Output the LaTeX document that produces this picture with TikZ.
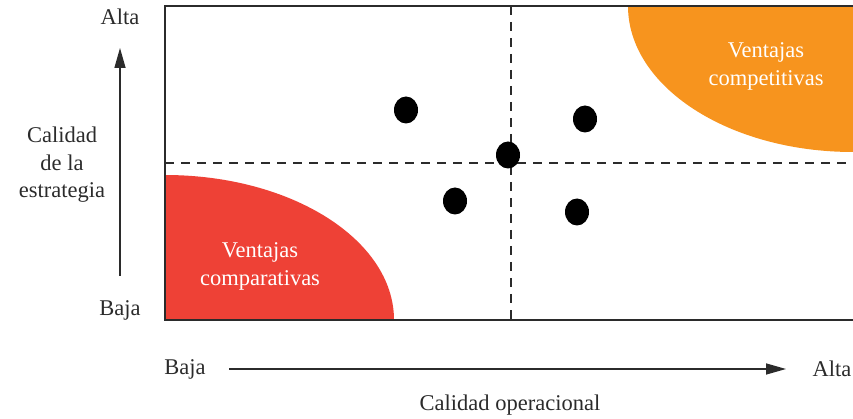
\documentclass[tikz,border=0pt]{standalone}
\usepackage{fontspec}
\setmainfont{Liberation Serif}
\usetikzlibrary{arrows.meta,shapes.geometric}
\definecolor{redc}{HTML}{EE4136}
\definecolor{orangec}{HTML}{F7941E}
\definecolor{linec}{HTML}{2B2B2B}
\tikzset{
  lbl/.style={font=\fontsize{22.5}{26}\selectfont, text=linec, inner sep=0pt},
  wlbl/.style={font=\fontsize{22.5}{28}\selectfont, text=white, align=center, inner sep=0pt},
  frameline/.style={draw=linec, line width=2pt},
  dashline/.style={draw=linec, line width=1.6pt, dash pattern=on 9pt off 7pt},
  axisarrow/.style={draw=linec, line width=1.5pt, -{Triangle[length=20pt,width=11pt]}},
  dot/.style={ellipse, fill=black, minimum width=24pt, minimum height=27pt, inner sep=0pt},
}
\begin{document}
\begin{tikzpicture}[x=1pt,y=-1pt]
\useasboundingbox (0,0) rectangle (853,419);
% colored regions
\fill[redc] (165,320) -- (165,175) arc[start angle=-90, end angle=0, x radius=229, y radius=145] -- cycle;
\fill[orangec] (853,6) -- (628,6) arc[start angle=180, end angle=90, x radius=225, y radius=146] -- cycle;
% dashed quadrant lines
\coordinate (hl) at (165,163);
\coordinate (hr) at (853,163);
\coordinate (vt) at (511,6);
\coordinate (vb) at (511,320);
\draw[dashline] (hl) -- (hr);
\draw[dashline] (vt) -- (vb);
% frame
\coordinate (tr) at (853,6);
\coordinate (tl) at (165,6);
\coordinate (bl) at (165,320);
\coordinate (br) at (853,320);
\draw[frameline] (tr) -- (tl) -- (bl) -- (br);
% dots
\node[dot] (d1) at (406,110) {};
\node[dot] (d2) at (585,119) {};
\node[dot] (d3) at (508,155) {};
\node[dot] (d4) at (455,201) {};
\node[dot] (d5) at (577,212) {};
% region labels
\node[wlbl] (comp) at (260,266) {Ventajas\\comparativas};
\node[wlbl] (compet) at (766,66) {Ventajas\\competitivas};
% vertical axis
\node[lbl] (yalta) at (120,17) {Alta};
\node[lbl] (ybaja) at (120,310) {Baja};
\coordinate (ys) at (120,276);
\coordinate (ye) at (120,48);
\draw[axisarrow] (ys) -- (ye);
\node[lbl, align=center, font=\fontsize{22.5}{27.5}\selectfont] (ytitle) at (62,165) {Calidad\\de la\\estrategia};
% horizontal axis
\node[lbl] (xbaja) at (185,369) {Baja};
\node[lbl] (xalta) at (832,369) {Alta};
\coordinate (xs) at (229,369);
\coordinate (xe) at (786,369);
\draw[axisarrow] (xs) -- (xe);
\node[lbl] (xtitle) at (510,405) {Calidad operacional};
\end{tikzpicture}
\end{document}
